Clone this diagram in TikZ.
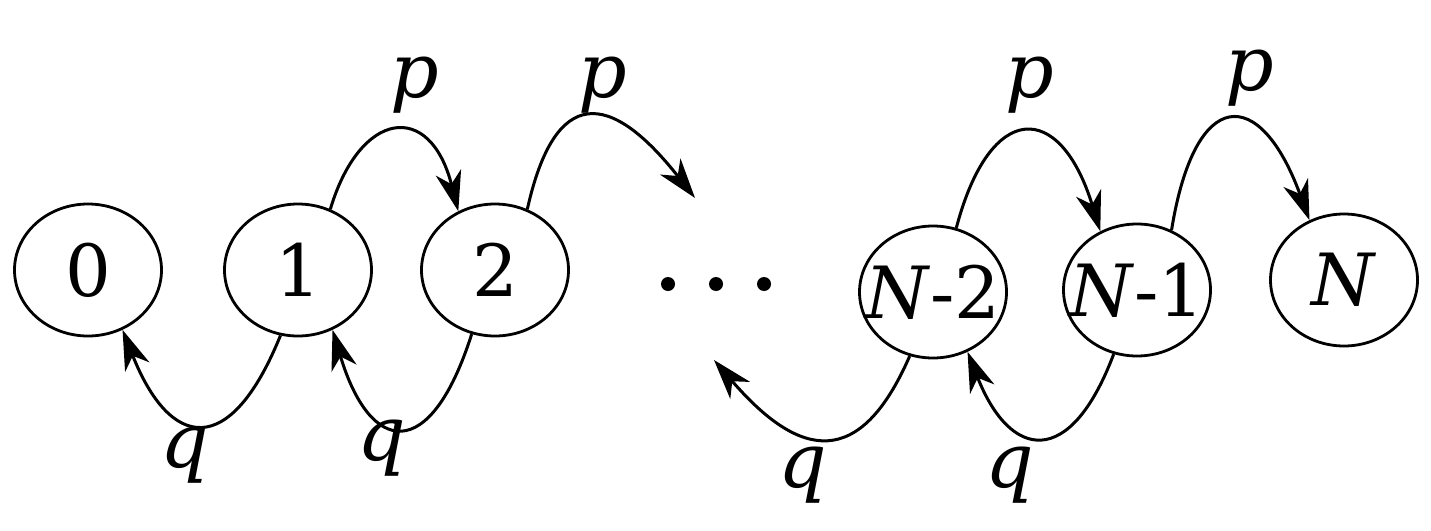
\documentclass[tikz,border=0pt]{standalone}
\usepackage{fontspec}
\newfontfamily\tms{DejaVu Serif}
\usetikzlibrary{shapes.geometric,arrows.meta}
\newcommand\zw[1]{\makebox[0pt]{#1}}
\begin{document}
\begin{tikzpicture}[x=1pt,y=-1pt,
  st/.style={draw,line width=2.8pt,ellipse,minimum width=147pt,minimum height=132pt,inner sep=0pt,font=\tms\fontsize{72}{72}\selectfont},
  arc/.style={line width=3pt,-{Stealth[length=40pt,width=26pt,inset=12pt]}},
  lab/.style={font=\tms\fontsize{76}{76}\selectfont\itshape}]
\useasboundingbox (0,0) rectangle (1431,530);
\node[st] (n0) at (88,270) {\zw{0}};
\node[st] (n1) at (298,270) {\zw{1}};
\node[st] (n2) at (495,270) {\zw{2}};
\node[st] (m2) at (933,292) {\zw{\textit{N}-2}};
\node[st] (m1) at (1137,290) {\zw{\textit{N}-1}};
\node[st] (mN) at (1344,280) {\zw{\textit{N}}};
\foreach \x [count=\i] in {668,716,764} \fill (\x,284) circle (7) coordinate (d\i);
\coordinate (f1) at (695,198);
\coordinate (f2) at (714,360);
% p arcs
\draw[arc] (n1.62) .. controls (360,110) and (430,100) .. (n2.122);
\draw[arc] (n2.62) .. controls (555,85) and (610,90) .. (f1);
\draw[arc] (m2.70) .. controls (990,100) and (1060,100) .. (m1.122);
\draw[arc] (m1.60) .. controls (1195,85) and (1260,85) .. (mN.120);
% q arcs
\draw[arc] (n1.255) .. controls (230,460) and (170,450) .. (n0.-60);
\draw[arc] (n2.250) .. controls (430,465) and (370,455) .. (n1.-60);
\draw[arc] (m2.-110) .. controls (860,470) and (800,460) .. (f2);
\draw[arc] (m1.-110) .. controls (1070,470) and (1010,460) .. (m2.-60);
\node[lab] (p1) at (415,85) {p};
\node[lab] (p2) at (603,85) {p};
\node[lab] (p3) at (1030,85) {p};
\node[lab] (p4) at (1250,78) {p};
\node[lab] (q1) at (185,455) {q};
\node[lab] (q2) at (382,448) {q};
\node[lab] (q3) at (803,475) {q};
\node[lab] (q4) at (1010,475) {q};
\end{tikzpicture}
\end{document}
